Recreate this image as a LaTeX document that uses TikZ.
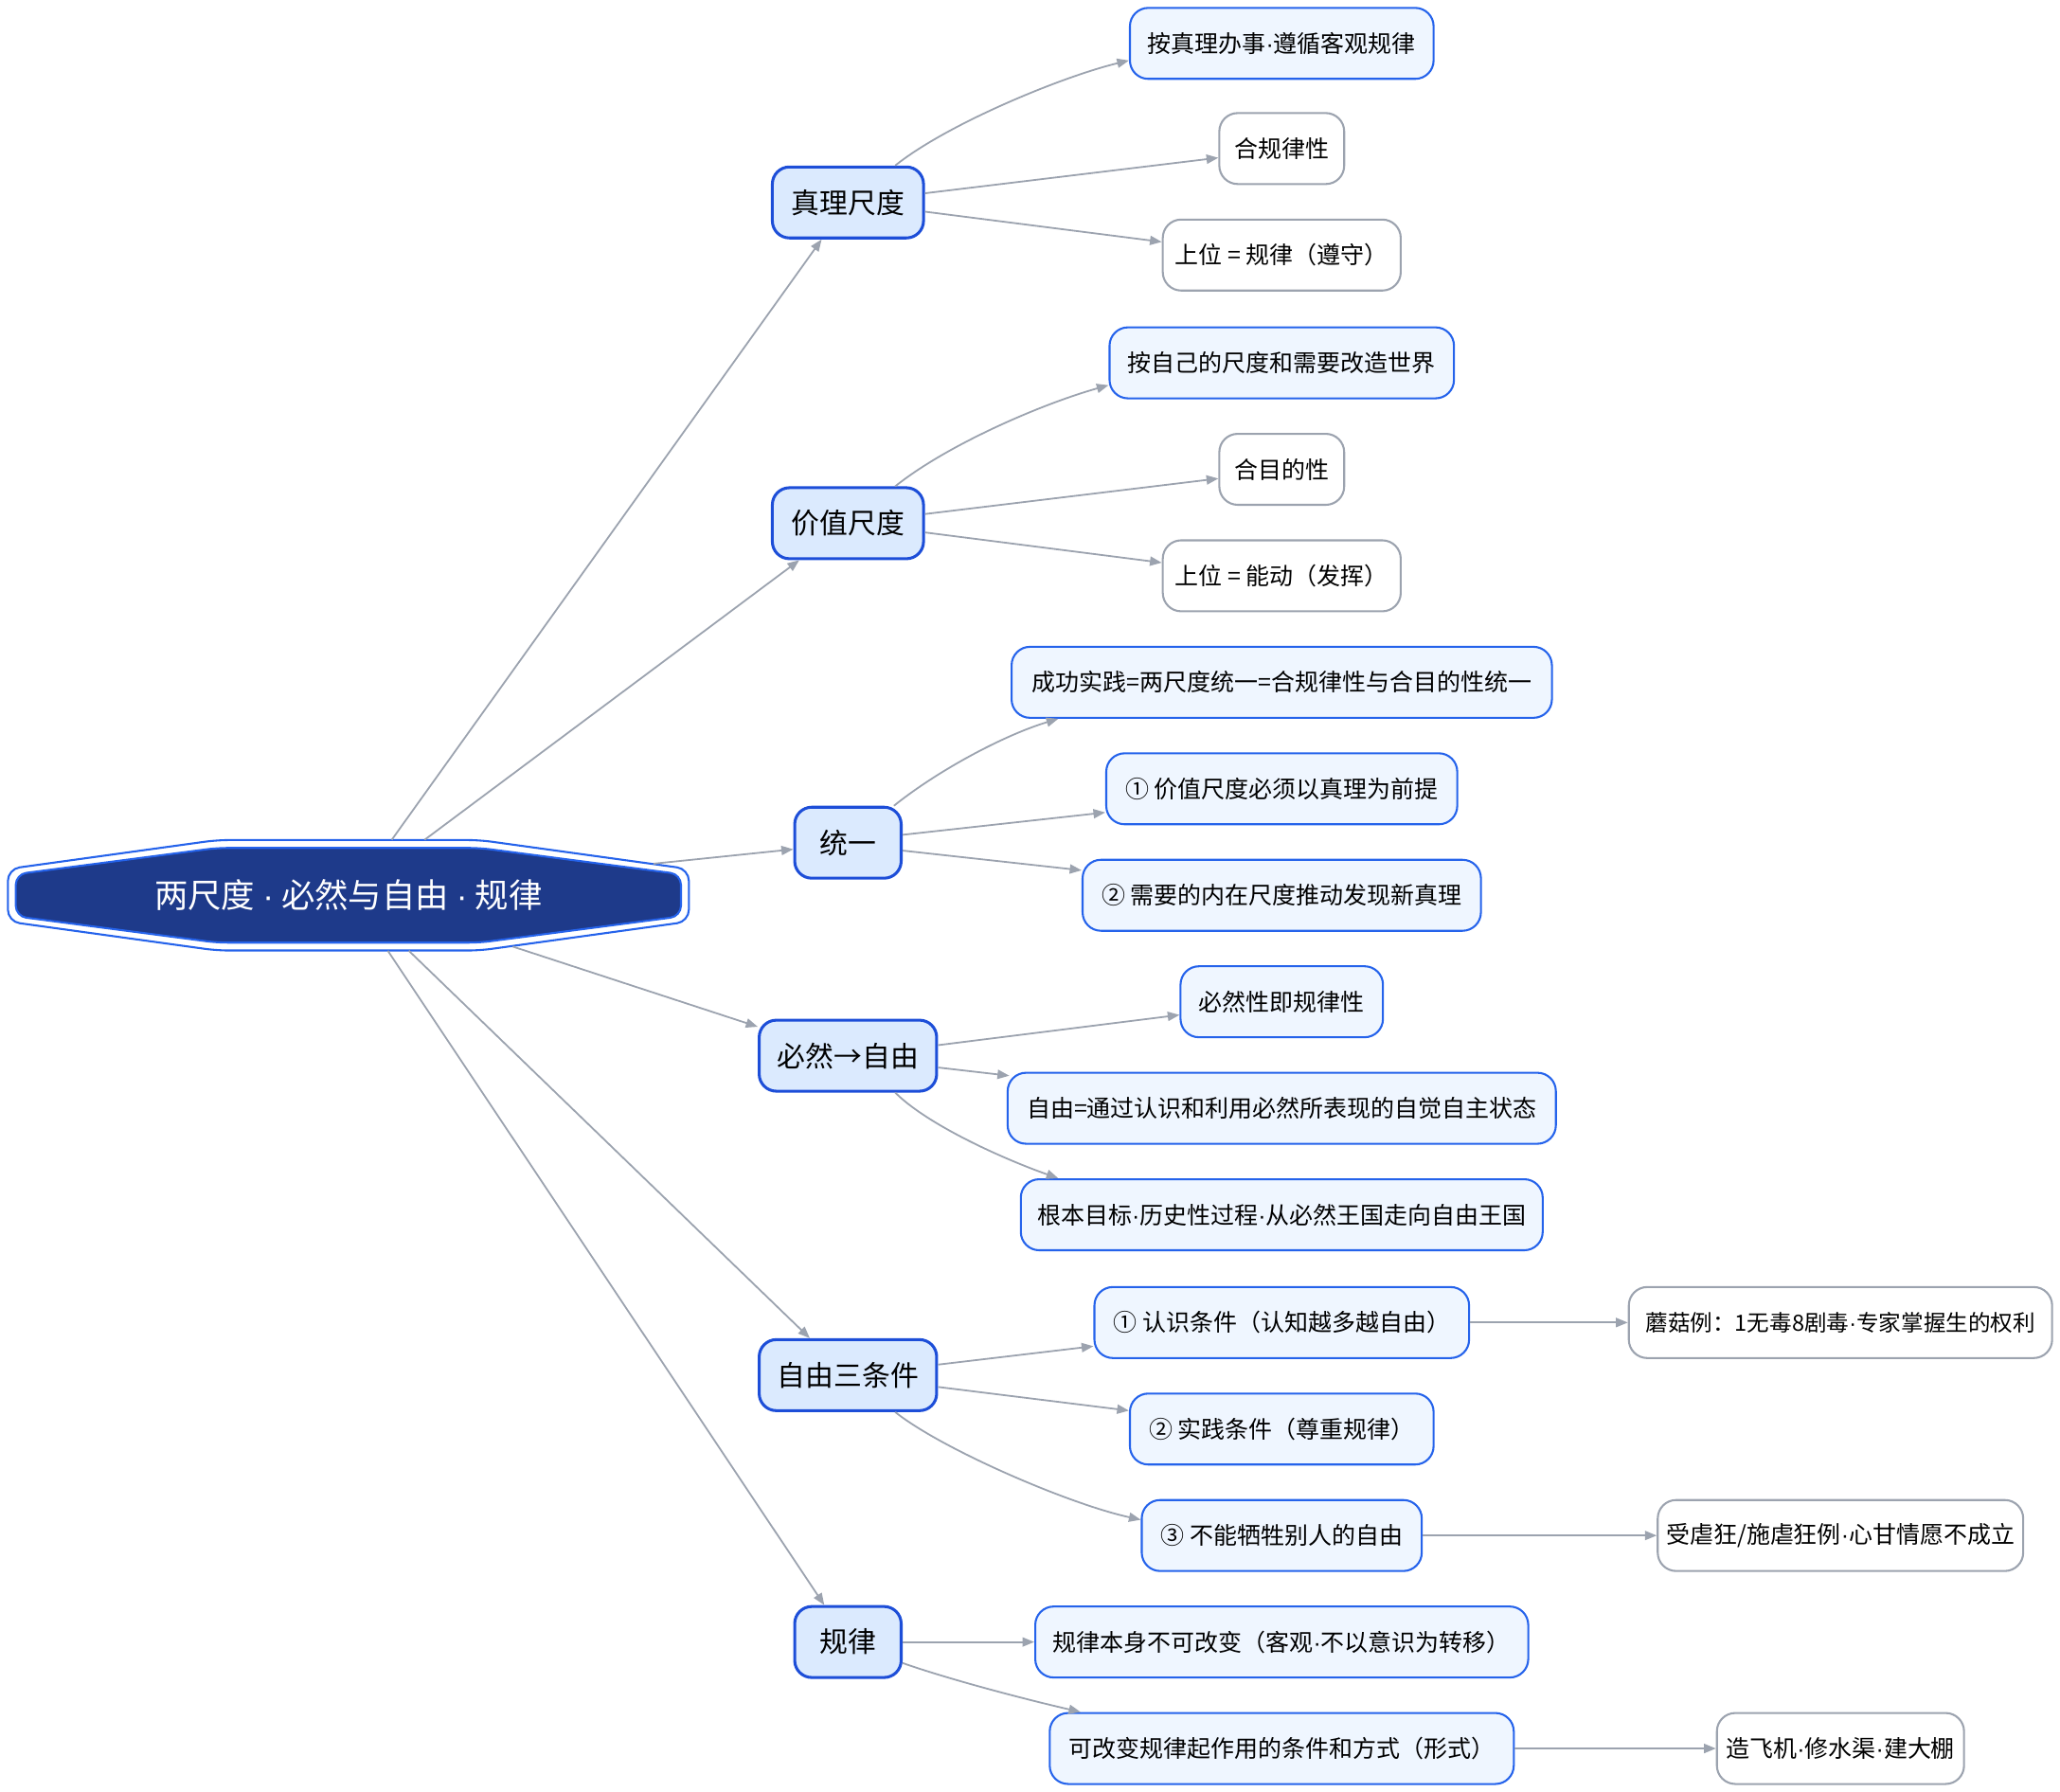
\documentclass[tikz,border=0pt]{standalone}
\usepackage{fontspec}
\setmainfont{Noto Sans CJK SC}
\newfontfamily\dotfont{Liberation Sans}
\newcommand{\mdot}{{\dotfont ·}}
\usetikzlibrary{arrows.meta,calc}
\definecolor{edgegray}{HTML}{9CA3AF}
\definecolor{midfill}{HTML}{DBEAFE}
\definecolor{midline}{HTML}{1D4ED8}
\definecolor{leaffill}{HTML}{EFF6FF}
\definecolor{leafline}{HTML}{2563EB}
\definecolor{rootfill}{HTML}{1E3A8A}
\definecolor{rootline}{HTML}{2563EB}
\begin{document}
\begin{tikzpicture}[x=1pt,y=-1pt,
  midbox/.style={draw=midline, line width=2.2pt, fill=midfill, rounded corners=13pt, minimum height=54pt, inner sep=0pt, font=\fontsize{21.5}{24}\selectfont},
  bluebox/.style={draw=leafline, line width=1.5pt, fill=leaffill, rounded corners=14pt, minimum height=54pt, inner sep=0pt, font=\fontsize{18}{21}\selectfont},
  graybox/.style={draw=edgegray, line width=1.5pt, fill=white, rounded corners=14pt, minimum height=54pt, inner sep=0pt, font=\fontsize{18}{21}\selectfont},
  edge/.style={draw=edgegray, line width=1.3pt, -{Triangle[length=9pt,width=7pt]}},
]
\useasboundingbox (0,0) rectangle (1567,1363);
% root shape
\draw[rootline, line width=1.5pt, fill=white, rounded corners=9pt] (165,639) -- (365,639) -- (524,661) -- (524,701) -- (365,723) -- (165,723) -- (6,701) -- (6,661) -- cycle;
\draw[rootline, line width=1.5pt, fill=rootfill, rounded corners=8pt] (165,645) -- (365,645) -- (518,665) -- (518,697) -- (365,717) -- (165,717) -- (12,697) -- (12,665) -- cycle;
\node[text=white, font=\fontsize{25.5}{28}\selectfont, minimum width=518pt, minimum height=84pt, inner sep=0pt] (root) at (265,681) {两尺度 \mdot{} 必然与自由 \mdot{} 规律};
% mid nodes
\node[midbox, minimum width=115pt] (zl) at (645,154) {真理尺度};
\node[midbox, minimum width=115pt] (jz) at (645,398) {价值尺度};
\node[midbox, minimum width=81pt] (ty) at (645,641) {统一};
\node[midbox, minimum width=135pt] (br) at (645,803) {必然→自由};
\node[midbox, minimum width=135pt] (zy) at (645,1046) {自由三条件};
\node[midbox, minimum width=81pt] (gl) at (645,1249) {规律};
% leaves
\node[bluebox, minimum width=231pt] (a1) at (975,33) {按真理办事\mdot 遵循客观规律};
\node[graybox, minimum width=95pt] (a2) at (975,113) {合规律性};
\node[graybox, minimum width=181pt] (a3) at (975,194) {上位 = 规律（遵守）};
\node[bluebox, minimum width=262pt] (b1) at (975,276) {按自己的尺度和需要改造世界};
\node[graybox, minimum width=95pt] (b2) at (975,357) {合目的性};
\node[graybox, minimum width=181pt] (b3) at (975,438) {上位 = 能动（发挥）};
\node[bluebox, minimum width=411pt] (c1) at (975,519) {成功实践=两尺度统一=合规律性与合目的性统一};
\node[bluebox, minimum width=267pt] (c2) at (975,600) {① 价值尺度必须以真理为前提};
\node[bluebox, minimum width=303pt] (c3) at (975,681) {② 需要的内在尺度推动发现新真理};
\node[bluebox, minimum width=154pt] (d1) at (975,762) {必然性即规律性};
\node[bluebox, minimum width=417pt] (d2) at (975,843) {自由=通过认识和利用必然所表现的自觉自主状态};
\node[bluebox, minimum width=397pt] (d3) at (975,924) {根本目标\mdot 历史性过程\mdot 从必然王国走向自由王国};
\node[bluebox, minimum width=285pt] (e1) at (975,1006) {① 认识条件（认知越多越自由）};
\node[bluebox, minimum width=231pt] (e2) at (975,1087) {② 实践条件（尊重规律）};
\node[bluebox, minimum width=213pt] (e3) at (975,1168) {③ 不能牺牲别人的自由};
\node[bluebox, minimum width=375pt] (f1) at (975,1249) {规律本身不可改变（客观\mdot 不以意识为转移）};
\node[bluebox, minimum width=353pt] (f2) at (975,1330) {可改变规律起作用的条件和方式（形式）};
\node[graybox, minimum width=322pt, font=\fontsize{17}{20}\selectfont] (g1) at (1400,1006) {蘑菇例：1无毒8剧毒\mdot 专家掌握生的权利};
\node[graybox, minimum width=278pt] (g2) at (1400,1168) {受虐狂/施虐狂例\mdot 心甘情愿不成立};
\node[graybox, minimum width=188pt] (g3) at (1400,1330) {造飞机\mdot 修水渠\mdot 建大棚};
% root edges
\draw[edge] ([xshift=33pt]root.north) -- ([xshift=-20pt]zl.south);
\draw[edge] ([xshift=58pt]root.north) -- ([xshift=-37pt]jz.south);
\draw[edge] ([shift={(232pt,24pt)}]root.center) -- ([yshift=-5pt]ty.west);
\draw[edge] ([shift={(125pt,-39pt)}]root.center) -- ([yshift=22pt]br.west);
\draw[edge] ([xshift=46pt]root.south) -- ([xshift=-29pt]zy.north);
\draw[edge] ([xshift=30pt]root.south) -- ([xshift=-18pt]gl.north);
% zhenli
\draw[edge] ([xshift=36pt]zl.north) .. controls +(40,-32) and +(-50,12) .. ([yshift=-13pt]a1.west);
\draw[edge] ([yshift=7pt]zl.east) -- ([yshift=-7pt]a2.west);
\draw[edge] ([yshift=-7pt]zl.east) -- ([yshift=10pt]a3.west);
% jiazhi
\draw[edge] ([xshift=36pt]jz.north) .. controls +(40,-32) and +(-50,14) .. ([yshift=-17pt]b1.west);
\draw[edge] ([yshift=7pt]jz.east) -- ([yshift=-7pt]b2.west);
\draw[edge] ([yshift=-7pt]jz.east) -- ([yshift=10pt]b3.west);
% tongyi
\draw[edge] ([xshift=35pt]ty.north) .. controls +(35,-28) and +(-40,12) .. ([xshift=-170pt]c1.south);
\draw[edge] ([yshift=6pt]ty.east) -- ([yshift=-18pt]c2.west);
\draw[edge] ([yshift=-6pt]ty.east) -- ([yshift=19pt]c3.west);
% biran
\draw[edge] ([yshift=8pt]br.east) -- ([yshift=-10pt]d1.west);
\draw[edge] ([yshift=-9pt]br.east) -- ([shift={(2pt,-3pt)}]d2.north west);
\draw[edge] ([xshift=36pt]br.south) .. controls +(25,25) and +(-40,-14) .. ([xshift=-170pt]d3.north);
% ziyou
\draw[edge] ([yshift=8pt]zy.east) -- ([yshift=-18pt]e1.west);
\draw[edge] ([yshift=-9pt]zy.east) -- ([yshift=14pt]e2.west);
\draw[edge] ([xshift=36pt]zy.south) .. controls +(35,28) and +(-55,-12) .. ([yshift=12pt]e3.west);
% guilv
\draw[edge] (gl.east) -- (f1.west);
\draw[edge] ([yshift=-16pt]gl.east) .. controls +(40,14) and +(-35,-8) .. ([xshift=-153pt]f2.north);
% level 4
\draw[edge] (e1.east) -- (g1.west);
\draw[edge] (e3.east) -- (g2.west);
\draw[edge] (f2.east) -- (g3.west);
\end{tikzpicture}
\end{document}
